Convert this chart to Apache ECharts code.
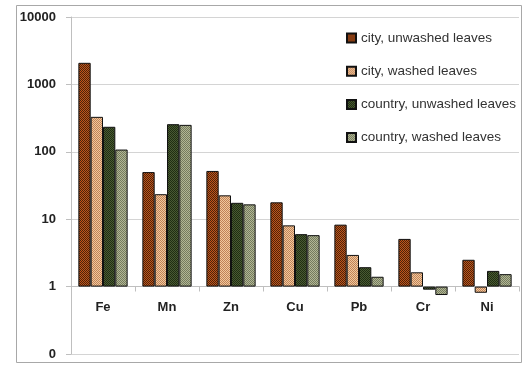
<!DOCTYPE html>
<html>
<head>
<meta charset="utf-8">
<script src="https://cdn.jsdelivr.net/npm/echarts@6/dist/echarts.min.js"></script>
<style>html,body{margin:0;padding:0;background:#fff}#c{width:525px;height:366px}</style>
</head>
<body>
<div id="c"></div>
<script>
var categories = ['Fe', 'Mn', 'Zn', 'Cu', 'Pb', 'Cr', 'Ni'];
var seriesNames = ['city, unwashed leaves', 'city, washed leaves', 'country, unwashed leaves', 'country, washed leaves'];
var cityUnwashed = [2090, 50, 52, 17.8, 8.3, 5.1, 2.5];
var cityWashed = [330, 23.5, 22.6, 8.1, 2.95, 1.63, 0.81];
var countryUnwashed = [235, 257, 17.5, 6.0, 1.94, 0.9, 1.71];
var countryWashed = [108, 251, 16.6, 5.8, 1.4, 0.75, 1.53];
var yTickLabels = {0.1: '0', 1: '1', 10: '10', 100: '100', 1000: '1000', 10000: '10000'};

function checker(a, b) {
  var cv = document.createElement('canvas');
  cv.width = 2; cv.height = 2;
  var ctx = cv.getContext('2d');
  ctx.fillStyle = a; ctx.fillRect(0, 0, 2, 2);
  ctx.fillStyle = b; ctx.fillRect(1, 0, 1, 1); ctx.fillRect(0, 1, 1, 1);
  return { image: cv, repeat: 'repeat' };
}
var fills = [
  checker('#4e2209', '#bf561c'),
  checker('#c08258', '#f0c89c'),
  checker('#1f2e13', '#4a5a32'),
  checker('#747b5e', '#b2b694')
];
var dataSets = [cityUnwashed, cityWashed, countryUnwashed, countryWashed];

var chart = echarts.init(document.getElementById('c'));
chart.setOption({
  animation: false,
  backgroundColor: '#fff',
  graphic: [{
    type: 'rect', shape: { x: 16.5, y: 5.5, width: 505, height: 357 },
    style: { fill: 'none', stroke: '#a8a8a8', lineWidth: 1 }, silent: true, z: -1
  }],
  grid: { left: 71, right: 6, top: 17, bottom: 12, containLabel: false },
  legend: {
    orient: 'vertical', left: 341, top: 26, itemWidth: 9, itemHeight: 9, itemGap: 19.2,
    icon: 'rect',
    textStyle: { fontFamily: 'Liberation Sans', fontSize: 13.5, color: '#333' },
    data: seriesNames
  },
  xAxis: {
    type: 'category', data: categories, offset: -67.5,
    axisLine: { lineStyle: { color: '#bfbfbf' } },
    axisTick: { show: true, length: 5, lineStyle: { color: '#bfbfbf' } },
    axisLabel: { fontFamily: 'Liberation Sans', fontWeight: 'bold', fontSize: 13, color: '#222', margin: 14 }
  },
  yAxis: {
    type: 'log', logBase: 10, min: 0.1, max: 10000,
    axisLine: { show: true, lineStyle: { color: '#bfbfbf' } },
    axisTick: { show: true, length: 5, lineStyle: { color: '#bfbfbf' } },
    splitLine: { show: true, lineStyle: { color: '#d4d4d4' } },
    axisLabel: {
      fontFamily: 'Liberation Sans', fontWeight: 'bold', fontSize: 13, color: '#222', margin: 15,
      formatter: function (v) {
        var k = Object.keys(yTickLabels).find(function (t) { return Math.abs(Math.log10(+t) - Math.log10(v)) < 0.01; });
        return k !== undefined ? yTickLabels[k] : '';
      }
    }
  },
  series: dataSets.map(function (d, i) {
    return {
      name: seriesNames[i], type: 'bar', data: d,
      barGap: '0%', barCategoryGap: '23%',
      itemStyle: { color: fills[i], borderColor: '#111', borderWidth: 1 }
    };
  })
});
</script>
</body>
</html>
